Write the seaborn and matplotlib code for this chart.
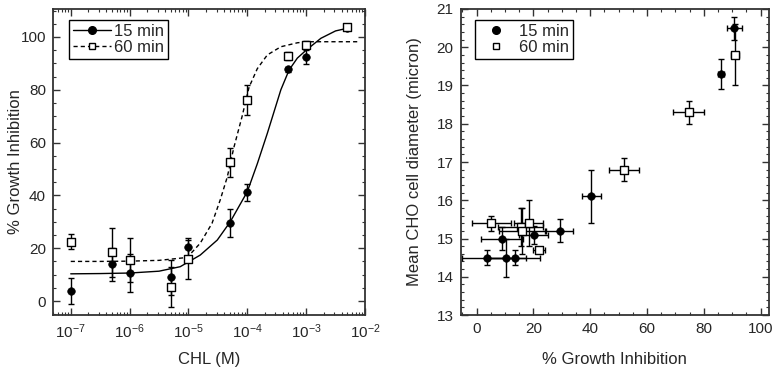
import numpy as np
import pandas as pd
import seaborn as sns
import matplotlib
matplotlib.use("Agg")
import matplotlib.pyplot as plt
from matplotlib.lines import Line2D
from matplotlib.ticker import MultipleLocator, LogLocator, NullFormatter

# Left panel: dose response (CHL concentration vs % growth inhibition)
conc = [1e-7, 5e-7, 1e-6, 5e-6, 1e-5, 5e-5, 1e-4, 5e-4, 1e-3, 5e-3]
inh_15 = [3.8, 13.9, 10.7, 9.0, 20.3, 29.7, 41.2, 87.8, 92.5, 103.3]
err_15 = [5.0, 6.3, 7.2, 6.6, 3.7, 5.3, 3.2, 1.0, 2.6, 0.8]
inh_60 = [22.5, 18.4, 15.5, 5.2, 15.8, 52.5, 76.1, 92.9, 97.0, 103.9]
err_60 = [2.7, 9.4, 8.2, 7.5, 7.5, 5.4, 5.7, 1.5, 1.5, 0.8]

# fitted curves (log10 of concentration, % inhibition)
fit15_logx = [-7, -6.5, -6, -5.5, -5.14, -4.8, -4.51, -4.29, -4.0, -3.83, -3.66,
              -3.43, -3.29, -3.15, -3.0, -2.75, -2.5, -2.3]
fit15_y = [10.3, 10.4, 10.6, 11.3, 13.0, 17.4, 23.1, 30.0, 41.4, 52.0, 63.5,
           80.0, 87.5, 92.0, 95.0, 99.5, 102.3, 103.3]
fit60_logx = [-7, -6.5, -6, -5.5, -5.02, -4.8, -4.6, -4.46, -4.34, -4.23, -4.09,
              -3.97, -3.83, -3.66, -3.43, -3.15, -2.98, -2.5, -2.1]
fit60_y = [15.0, 15.0, 15.1, 15.4, 16.5, 21.9, 29.4, 38.3, 47.0, 58.0, 69.8,
           81.0, 88.0, 93.2, 96.3, 97.8, 98.2, 98.2, 98.2]

# Right panel: growth inhibition vs mean cell diameter
gi_15 = [3.8, 9.0, 10.5, 13.5, 20.1, 29.3, 40.4, 86.1, 90.8]
gi_15_err = [9.0, 7.4, 7.0, 9.0, 5.0, 4.8, 3.4, 1.0, 2.8]
diam_15 = [14.5, 15.0, 14.5, 14.5, 15.1, 15.2, 16.1, 19.3, 20.5]
diam_15_err = [0.2, 0.3, 0.5, 0.2, 0.24, 0.3, 0.7, 0.4, 0.3]
gi_60 = [5.2, 15.5, 16.0, 18.3, 22.0, 51.9, 74.7, 91.0]
gi_60_err = [6.8, 8.0, 8.0, 5.2, 2.0, 5.2, 5.5, 1.5]
diam_60 = [15.4, 15.3, 15.2, 15.4, 14.7, 16.8, 18.3, 19.8]
diam_60_err = [0.2, 0.5, 0.6, 0.6, 0.05, 0.3, 0.3, 0.8]

sns.set_style("ticks")
plt.rcParams["font.family"] = ["Liberation Sans", "DejaVu Sans"]
plt.rcParams["mathtext.fontset"] = "custom"
plt.rcParams["mathtext.rm"] = "Liberation Sans"
plt.rcParams["mathtext.it"] = "Liberation Sans:italic"
plt.rcParams["font.size"] = 12

fig = plt.figure(figsize=(7.74, 3.70), dpi=100)
ax1 = fig.add_axes([0.0685, 0.1486, 0.4031, 0.8271])
ax2 = fig.add_axes([0.5952, 0.1486, 0.3985, 0.8271])

df15 = pd.DataFrame({"conc": conc, "inh": inh_15, "err": err_15})
df60 = pd.DataFrame({"conc": conc, "inh": inh_60, "err": err_60})
fit15 = pd.DataFrame({"conc": np.power(10.0, fit15_logx), "inh": fit15_y})
fit60 = pd.DataFrame({"conc": np.power(10.0, fit60_logx), "inh": fit60_y})

ax1.set_xscale("log")
sns.lineplot(data=fit15, x="conc", y="inh", ax=ax1, color="black", lw=1.0,
             sort=True, estimator=None)
sns.lineplot(data=fit60, x="conc", y="inh", ax=ax1, color="black", lw=1.0,
             linestyle=(0, (3, 2.2)), sort=True, estimator=None)
ax1.errorbar(df15["conc"], df15["inh"], yerr=df15["err"], fmt="none",
             ecolor="black", elinewidth=1.0, capsize=2.5, capthick=1.0)
ax1.errorbar(df60["conc"], df60["inh"], yerr=df60["err"], fmt="none",
             ecolor="black", elinewidth=1.0, capsize=2.5, capthick=1.0)
sns.scatterplot(data=df15, x="conc", y="inh", ax=ax1, marker="o", s=30,
                color="black", edgecolor="black", zorder=4)
sns.scatterplot(data=df60, x="conc", y="inh", ax=ax1, marker="s", s=26,
                facecolor="white", edgecolor="black", linewidth=1.0, zorder=5)

ax1.set_xlim(5e-8, 1e-2)
ax1.set_ylim(-5.3, 110.6)
ax1.xaxis.set_major_locator(LogLocator(base=10, numticks=12))
ax1.xaxis.set_minor_locator(LogLocator(base=10, subs=np.arange(2, 10), numticks=12))
ax1.xaxis.set_minor_formatter(NullFormatter())
ax1.yaxis.set_major_locator(MultipleLocator(20))
ax1.yaxis.set_minor_locator(MultipleLocator(5))
ax1.set_xlabel("CHL (M)")
ax1.set_ylabel("% Growth Inhibition")
ax1.xaxis.set_label_coords(0.5, -0.12)
ax1.yaxis.set_label_coords(-0.095, 0.5)

h15 = Line2D([], [], color="black", lw=1.0, marker="o", markersize=5.5)
h60 = Line2D([], [], color="black", lw=1.0, linestyle=(0, (3, 2.2)), marker="s",
             markersize=5, markerfacecolor="white")
leg1 = ax1.legend([h15, h60], ["15 min", "60 min"], loc="upper left",
                  bbox_to_anchor=(0.04, 0.975), handlelength=2.3, handletextpad=0.15,
                  borderpad=0.25, labelspacing=0.05, fancybox=False, framealpha=1,
                  edgecolor="black", fontsize=12, borderaxespad=0.2)
leg1.get_frame().set_linewidth(1.0)

# right panel
ax2.errorbar(gi_15, diam_15, xerr=gi_15_err, yerr=diam_15_err, fmt="none",
             ecolor="black", elinewidth=1.0, capsize=2.5, capthick=1.0)
ax2.errorbar(gi_60, diam_60, xerr=gi_60_err, yerr=diam_60_err, fmt="none",
             ecolor="black", elinewidth=1.0, capsize=2.5, capthick=1.0)
sns.scatterplot(x=gi_15, y=diam_15, ax=ax2, marker="o", s=30, color="black",
                edgecolor="black", zorder=4)
sns.scatterplot(x=gi_60, y=diam_60, ax=ax2, marker="s", s=26, facecolor="white",
                edgecolor="black", linewidth=1.0, zorder=5)
ax2.set_xlim(-5.6, 103)
ax2.set_ylim(13, 21)
ax2.xaxis.set_major_locator(MultipleLocator(20))
ax2.xaxis.set_minor_locator(MultipleLocator(5))
ax2.yaxis.set_major_locator(MultipleLocator(1))
ax2.yaxis.set_minor_locator(MultipleLocator(0.2))
ax2.set_xlabel("% Growth Inhibition")
ax2.set_ylabel("Mean CHO cell diameter (micron)")
ax2.xaxis.set_label_coords(0.5, -0.12)
ax2.yaxis.set_label_coords(-0.125, 0.5)

m15 = Line2D([], [], color="black", lw=0, marker="o", markersize=5.5)
m60 = Line2D([], [], color="black", lw=0, marker="s", markersize=5,
             markerfacecolor="white")
leg2 = ax2.legend([m15, m60], ["15 min", "60 min"], loc="upper left",
                  bbox_to_anchor=(0.035, 0.975), handlelength=2.0, handletextpad=0.4,
                  borderpad=0.25, labelspacing=0.05, fancybox=False, framealpha=1,
                  edgecolor="black", fontsize=12, borderaxespad=0.2)
leg2.get_frame().set_linewidth(1.0)

for ax in (ax1, ax2):
    for sp in ax.spines.values():
        sp.set_visible(True)
        sp.set_linewidth(1.3)
        sp.set_color("#333333")
    ax.tick_params(which="both", direction="in", top=True, right=True,
                   labelsize=11, color="#333333")
    ax.tick_params(which="major", length=5, width=1.0, pad=5)
    ax.tick_params(which="minor", length=2.5, width=0.8)

fig.savefig("out.png", dpi=100)
